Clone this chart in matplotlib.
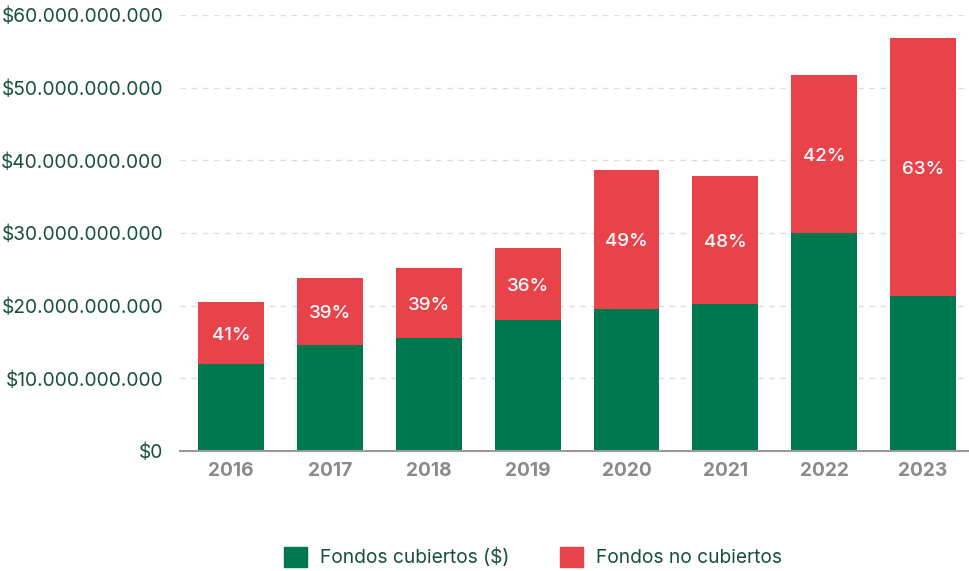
import matplotlib
matplotlib.use("Agg")
import matplotlib.pyplot as plt
from matplotlib.patches import Patch

plt.rcParams['font.family'] = ['Inter', 'DejaVu Sans']

years = ['2016', '2017', '2018', '2019', '2020', '2021', '2022', '2023']
# miles de millones
cubiertos = [12.0, 14.6, 15.55, 18.0, 19.5, 20.2, 30.0, 21.3]
no_cubiertos = [8.5, 9.2, 9.65, 9.9, 19.2, 17.6, 21.7, 35.5]
porcentajes = ['41%', '39%', '39%', '36%', '49%', '48%', '42%', '63%']
y_ticks = [0, 10, 20, 30, 40, 50, 60]

verde = '#00784f'
rojo = '#e8434a'
texto = '#17503a'

fig = plt.figure(figsize=(9.69, 5.71), dpi=100)
ax = fig.add_axes([0.1858, 0.2102, 0.8142, 0.7635])

x = list(range(len(years)))
ax.bar(x, cubiertos, width=0.667, color=verde, zorder=3)
ax.bar(x, no_cubiertos, width=0.667, bottom=cubiertos, color=rojo, zorder=3)

for i in x:
    ax.text(i, cubiertos[i] + no_cubiertos[i] / 2 - 0.3, porcentajes[i], color='white',
            ha='center', va='center', fontsize=13.5, fontweight='medium', zorder=4)

ax.set_xlim(-0.516, 7.465)
ax.set_ylim(0, 60)
ax.set_yticks(y_ticks)
ax.set_yticklabels(['$' + f"{v * 1000000000:,.0f}".replace(',', '.') for v in y_ticks])
ax.set_xticks(x)
ax.set_xticklabels(years)

for lbl in ax.get_yticklabels():
    lbl.set_color(texto)
    lbl.set_fontsize(13.8)
for lbl in ax.get_xticklabels():
    lbl.set_color('#8a8a8a')
    lbl.set_fontsize(13.8)
    lbl.set_fontweight('bold')

ax.tick_params(axis='both', length=0)
ax.tick_params(axis='y', pad=12)
ax.tick_params(axis='x', pad=8)
ax.grid(axis='y', color='#dddddd', linestyle=(0, (4, 4)), linewidth=1, zorder=0)
for s in ['top', 'right', 'left']:
    ax.spines[s].set_visible(False)
ax.spines['bottom'].set_color('#999999')
ax.spines['bottom'].set_linewidth(1.5)
ax.spines['bottom'].set_zorder(5)

handles = [Patch(color=verde, label='Fondos cubiertos ($)'),
           Patch(color=rojo, label='Fondos no cubiertos')]
leg = fig.legend(handles=handles, loc='center', bbox_to_anchor=(0.55, 0.0245), ncol=2,
                 frameon=False, fontsize=13.8, handlelength=1.2, handleheight=1.2,
                 columnspacing=2.6, handletextpad=0.7)
for t in leg.get_texts():
    t.set_color(texto)

fig.savefig('out.png', dpi=100)
